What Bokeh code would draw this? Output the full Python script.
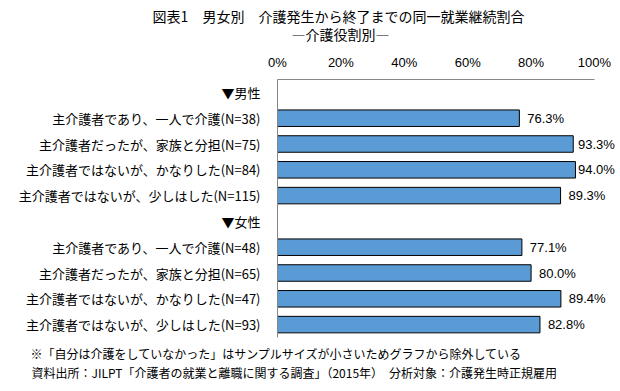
import numpy as np
from bokeh.plotting import figure
from bokeh.layouts import column
from bokeh.models import (FactorRange, ColumnDataSource, LabelSet,
                          FixedTicker, CustomJSTickFormatter)
from bokeh.core.properties import value
from bokeh.embed import file_html
from bokeh.resources import INLINE

# ---- data ----
header_m = "▼男性"
header_f = "▼女性"
cats_m = ["主介護者であり、一人で介護(N=38)", "主介護者だったが、家族と分担(N=75)",
          "主介護者ではないが、かなりした(N=84)", "主介護者ではないが、少しはした(N=115)"]
vals_m = [76.3, 93.3, 94.0, 89.3]
cats_f = ["主介護者であり、一人で介護(N=48)", "主介護者だったが、家族と分担(N=65)",
          "主介護者ではないが、かなりした(N=47)", "主介護者ではないが、少しはした(N=93)"]
vals_f = [77.1, 80.0, 89.4, 82.8]
x_ticks = [0, 20, 40, 60, 80, 100]

title_1 = "図表1　男女別　介護発生から終了までの同一就業継続割合"
title_2 = "―介護役割別―"
note_1 = "※「自分は介護をしていなかった」はサンプルサイズが小さいためグラフから除外している"
note_2 = "資料出所：JILPT「介護者の就業と離職に関する調査」（2015年）　分析対象：介護発生時正規雇用"

JP = "Noto Sans CJK JP"
NUM = "Liberation Sans"
W = 620


def text_panel(height, xs, ys, texts, aligns, size):
    f = figure(width=W, height=height, x_range=(0, W), y_range=(0, height),
               x_axis_location=None, y_axis_location=None, output_backend="svg",
               toolbar_location=None, min_border=0, frame_align=False)
    f.outline_line_color = None
    f.xgrid.grid_line_color = None
    f.ygrid.grid_line_color = None
    f.text(x=xs, y=ys, text=texts, text_font=value(JP), text_font_size=size,
           text_align=aligns, text_baseline="middle", text_color="black")
    return f


# ---- title panel ----
top = text_panel(46, [338, 340], [31, 13], [title_1, title_2], "center", "14px")

# ---- main chart ----
order_top_down = [header_m] + cats_m + [header_f] + cats_f
factors = list(reversed(order_top_down))

p = figure(width=W, height=294, y_range=FactorRange(*factors), x_range=(0, 107.26),
           x_axis_location="above", output_backend="svg", toolbar_location=None,
           min_border_left=277, min_border_right=3, min_border_top=33, min_border_bottom=3,
           frame_align=False)
p.outline_line_color = None
p.xgrid.grid_line_color = None
p.ygrid.grid_line_color = None

cats = cats_m + cats_f
vals = vals_m + vals_f
src = ColumnDataSource(dict(
    cat=cats, val=vals,
    lx=list(np.minimum(np.array(vals) + 2.5, 94.8)),
    lbl=["%.1f%%" % v for v in vals]))

p.hbar(y="cat", right="val", left=0, height=0.64, source=src,
       fill_color="#5B9BD5", line_color="black", line_width=1)

p.add_layout(LabelSet(x="lx", y="cat", text="lbl", source=src, text_font=value(NUM),
                      text_font_size="13px", text_baseline="middle", text_align="left",
                      text_color="black"))

xa = p.xaxis[0]
xa.bounds = (0, 100)
xa.ticker = FixedTicker(ticks=x_ticks)
xa.formatter = CustomJSTickFormatter(code="return tick + '%';")
xa.major_tick_line_color = None
xa.minor_tick_line_color = None
xa.axis_line_color = "#868686"
xa.major_label_text_font = NUM
xa.major_label_text_font_size = "13px"
xa.major_label_text_color = "black"
xa.major_label_standoff = 4

ya = p.yaxis[0]
ya.major_tick_line_color = None
ya.minor_tick_line_color = None
ya.axis_line_color = "#868686"
ya.major_label_text_font = JP
ya.major_label_text_font_size = "13px"
ya.major_label_text_color = "black"
ya.major_label_standoff = 11

# ---- notes panel ----
bottom = text_panel(51, [30, 31], [38, 19], [note_1, note_2], "left", "12px")

layout = column(top, p, bottom, spacing=0)
open("out.html", "w").write(file_html(layout, INLINE))
